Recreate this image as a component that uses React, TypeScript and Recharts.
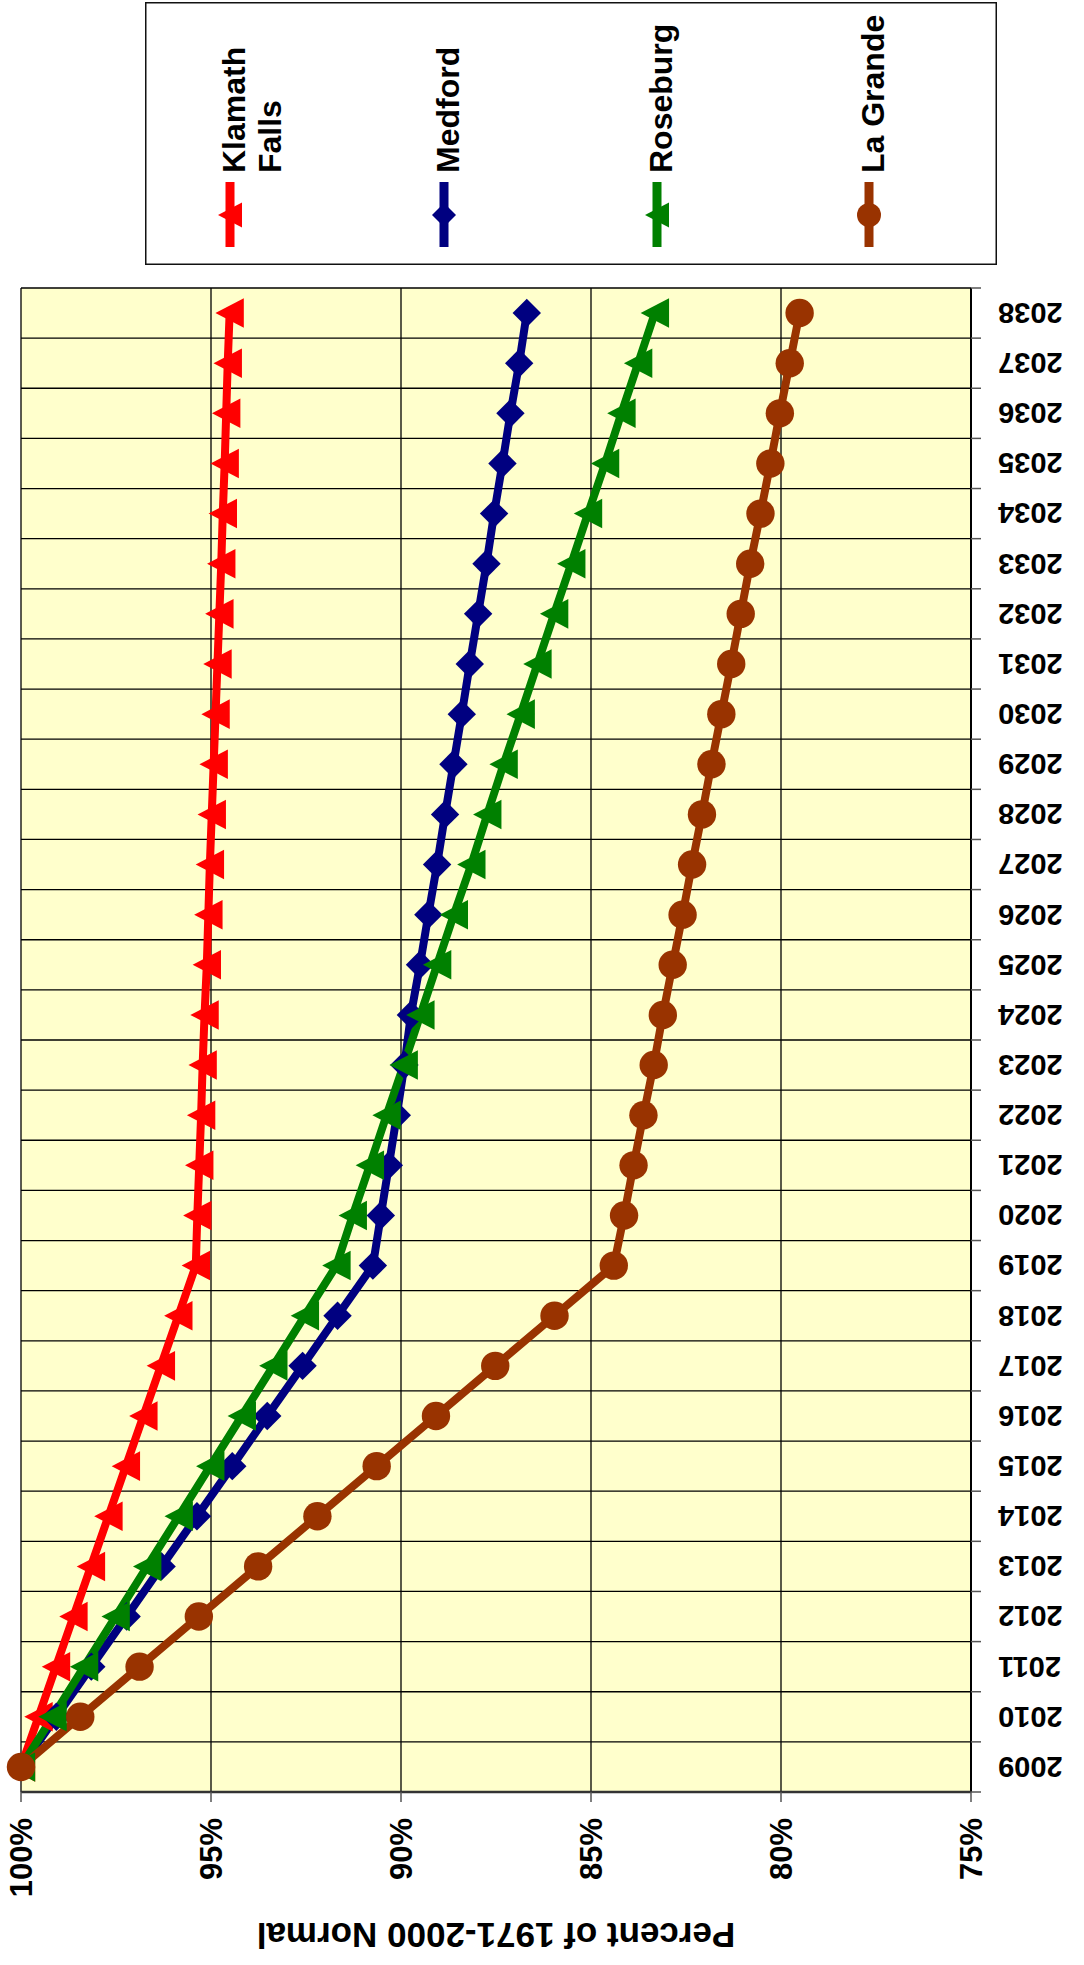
import { LineChart, Line, XAxis, YAxis, CartesianGrid, Legend } from "recharts";

// the reference is an Excel chart turned 90deg counter-clockwise, so the chart is drawn upright and then rotated
const years = [
  "2009", "2010", "2011", "2012", "2013", "2014", "2015", "2016", "2017", "2018",
  "2019", "2020", "2021", "2022", "2023", "2024", "2025", "2026", "2027", "2028",
  "2029", "2030", "2031", "2032", "2033", "2034", "2035", "2036", "2037", "2038",
];

const klamathFalls = [
  100, 99.54, 99.08, 98.62, 98.16, 97.7, 97.24, 96.78, 96.32, 95.86,
  95.4, 95.36, 95.31, 95.26, 95.22, 95.17, 95.11, 95.07, 95.03, 94.98,
  94.93, 94.88, 94.83, 94.78, 94.73, 94.69, 94.64, 94.6, 94.56, 94.51,
];
const medford = [
  100, 99.07, 98.15, 97.22, 96.3, 95.37, 94.44, 93.52, 92.59, 91.67,
  90.74, 90.53, 90.32, 90.11, 89.91, 89.74, 89.5, 89.28, 89.05, 88.84,
  88.62, 88.4, 88.19, 87.97, 87.75, 87.55, 87.33, 87.12, 86.89, 86.69,
];
const roseburg = [
  100, 99.17, 98.34, 97.51, 96.68, 95.85, 95.02, 94.19, 93.36, 92.53,
  91.7, 91.27, 90.82, 90.38, 89.93, 89.49, 89.05, 88.61, 88.15, 87.73,
  87.3, 86.85, 86.41, 85.97, 85.52, 85.08, 84.63, 84.2, 83.76, 83.32,
];
const laGrande = [
  100, 98.44, 96.88, 95.32, 93.76, 92.2, 90.64, 89.08, 87.52, 85.96,
  84.4, 84.13, 83.88, 83.62, 83.35, 83.11, 82.85, 82.59, 82.34, 82.08,
  81.83, 81.57, 81.31, 81.06, 80.81, 80.54, 80.28, 80.03, 79.77, 79.51,
];

const valueTicks = [75, 80, 85, 90, 95, 100];

const series = [
  { key: "klamath", name: "Klamath Falls", lines: ["Klamath", "Falls"], values: klamathFalls, color: "#FF0000", shape: "triangle" },
  { key: "medford", name: "Medford", lines: ["Medford"], values: medford, color: "#000080", shape: "diamond" },
  { key: "roseburg", name: "Roseburg", lines: ["Roseburg"], values: roseburg, color: "#008000", shape: "triangle" },
  { key: "lagrande", name: "La Grande", lines: ["La Grande"], values: laGrande, color: "#993300", shape: "circle" },
];

const data = years.map((year, i) => {
  const row: Record<string, string | number> = { year };
  series.forEach((s) => { row[s.key] = s.values[i]; });
  return row;
});

// upright frame (before rotation)
const W = 1965;
const H = 1084;
const TOP = 21;
const LEFT = 173;
const RIGHT = 288;
const XAXIS_H = 113;
const PLOT_W = W - LEFT - RIGHT;
const PLOT_H = H - TOP - XAXIS_H;
const BAND = PLOT_W / years.length;
const FONT = "'Liberation Sans', Arial, Helvetica, sans-serif";

const markerPath = (shape: string, cx: number, cy: number, s: number) => {
  if (shape === "triangle") return `M${cx},${cy - s} L${cx + s * 1.04},${cy + s} L${cx - s * 1.04},${cy + s} Z`;
  if (shape === "diamond") return `M${cx},${cy - s} L${cx + s},${cy} L${cx},${cy + s} L${cx - s},${cy} Z`;
  return "";
};

const Marker = ({ shape, cx, cy, color, s }: any) =>
  shape === "circle" ? <circle cx={cx} cy={cy} r={s} fill={color} /> : <path d={markerPath(shape, cx, cy, s)} fill={color} />;

const makeDot = (shape: string, color: string) => (p: any) => {
  if (p.cx == null || p.cy == null) return <g key={`e-${p.index}`} />;
  return (
    <g key={`${shape}-${color}-${p.index}`}>
      <Marker shape={shape} cx={p.cx} cy={p.cy} color={color} s={14.2} />
    </g>
  );
};

const YearTick = (props: any) => {
  const { x, y, payload, index } = props;
  const axisY = y - 27;
  const half = BAND / 2;
  return (
    <g>
      <line x1={x - half} x2={x - half} y1={axisY} y2={axisY + 10} stroke="#555" strokeWidth={1.5} />
      {index === years.length - 1 && <line x1={x + half} x2={x + half} y1={axisY} y2={axisY + 10} stroke="#555" strokeWidth={1.5} />}
      <text x={x} y={y} dy="0.35em" transform={`rotate(-90, ${x}, ${y})`} textAnchor="end" fontSize={29} fontWeight="bold" fontFamily={FONT} fill="#000">
        {payload.value}
      </text>
    </g>
  );
};

const AxisTitle = (props: any) => {
  const vb = props.viewBox || {};
  const x = (vb.x ?? 0) + 42;
  const y = (vb.y ?? TOP) + (vb.height ?? PLOT_H) / 2;
  return (
    <text x={x} y={y} transform={`rotate(-90, ${x}, ${y})`} textAnchor="middle" fontSize={35} fontWeight="bold" fontFamily={FONT} fill="#000">
      Percent of 1971-2000 Normal
    </text>
  );
};

// keep the series order (Recharts hands the payload over sorted by name)
const LegendBox = () => {
  const rows = [85, 299, 512, 724];
  return (
    <svg width={263} height={852} style={{ display: "block" }}>
      <rect x={0.75} y={0.75} width={261.5} height={850.5} fill="#fff" stroke="#111" strokeWidth={1.5} />
      {series.map((s, i) => {
        const y = rows[i];
        return (
          <g key={s.key}>
            <line x1={18} x2={83} y1={y} y2={y} stroke={s.color} strokeWidth={9} />
            <Marker shape={s.shape} cx={50} cy={y} color={s.color} s={12} />
            {s.lines.map((t, j) => (
              <text key={t} x={92} y={y + 4 + j * 36} dy="0.35em" fontSize={32} fontWeight="bold" fontFamily={FONT} fill="#000">
                {t}
              </text>
            ))}
          </g>
        );
      })}
    </svg>
  );
};

export default function App() {
  return (
    <div style={{ position: "absolute", left: 0, top: 0, width: H, height: W, overflow: "hidden", background: "#fff" }}>
      <div style={{ width: W, height: H, transformOrigin: "0 0", transform: `translate(0px, ${W}px) rotate(-90deg)` }}>
        <LineChart width={W} height={H} data={data} margin={{ top: TOP, right: RIGHT, bottom: 0, left: 0 }}>
          <CartesianGrid
            fill="#FFFFCC"
            stroke="#000"
            strokeWidth={1.3}
            verticalCoordinatesGenerator={(p: any) => {
              const left = p?.offset?.left ?? LEFT;
              const width = p?.offset?.width ?? PLOT_W;
              return years.map((_, i) => left + (i * width) / years.length).concat(left + width);
            }}
          />
          <XAxis
            dataKey="year"
            interval={0}
            height={XAXIS_H}
            padding={{ left: BAND / 2, right: BAND / 2 }}
            axisLine={{ stroke: "#000", strokeWidth: 2 }}
            tickLine={false}
            tickSize={10}
            tickMargin={17}
            tick={<YearTick />}
          />
          <YAxis
            type="number"
            domain={[75, 100]}
            ticks={valueTicks}
            width={LEFT}
            tickFormatter={(v: number) => `${v}%`}
            tickSize={10}
            tickMargin={16}
            axisLine={{ stroke: "#333", strokeWidth: 2.5 }}
            tickLine={{ stroke: "#555", strokeWidth: 1.5 }}
            tick={{ fill: "#000", fontSize: 31, fontWeight: "bold", fontFamily: FONT }}
            label={<AxisTitle />}
          />
          <Legend
            layout="vertical"
            align="center"
            verticalAlign="middle"
            content={<LegendBox />}
            wrapperStyle={{ left: 1700, top: 145, width: 263, height: 852 }}
          />
          {series.map((s) => (
            <Line
              key={s.key}
              type="linear"
              dataKey={s.key}
              name={s.name}
              stroke={s.color}
              strokeWidth={8}
              dot={makeDot(s.shape, s.color)}
              activeDot={false}
              isAnimationActive={false}
            />
          ))}
        </LineChart>
      </div>
    </div>
  );
}
